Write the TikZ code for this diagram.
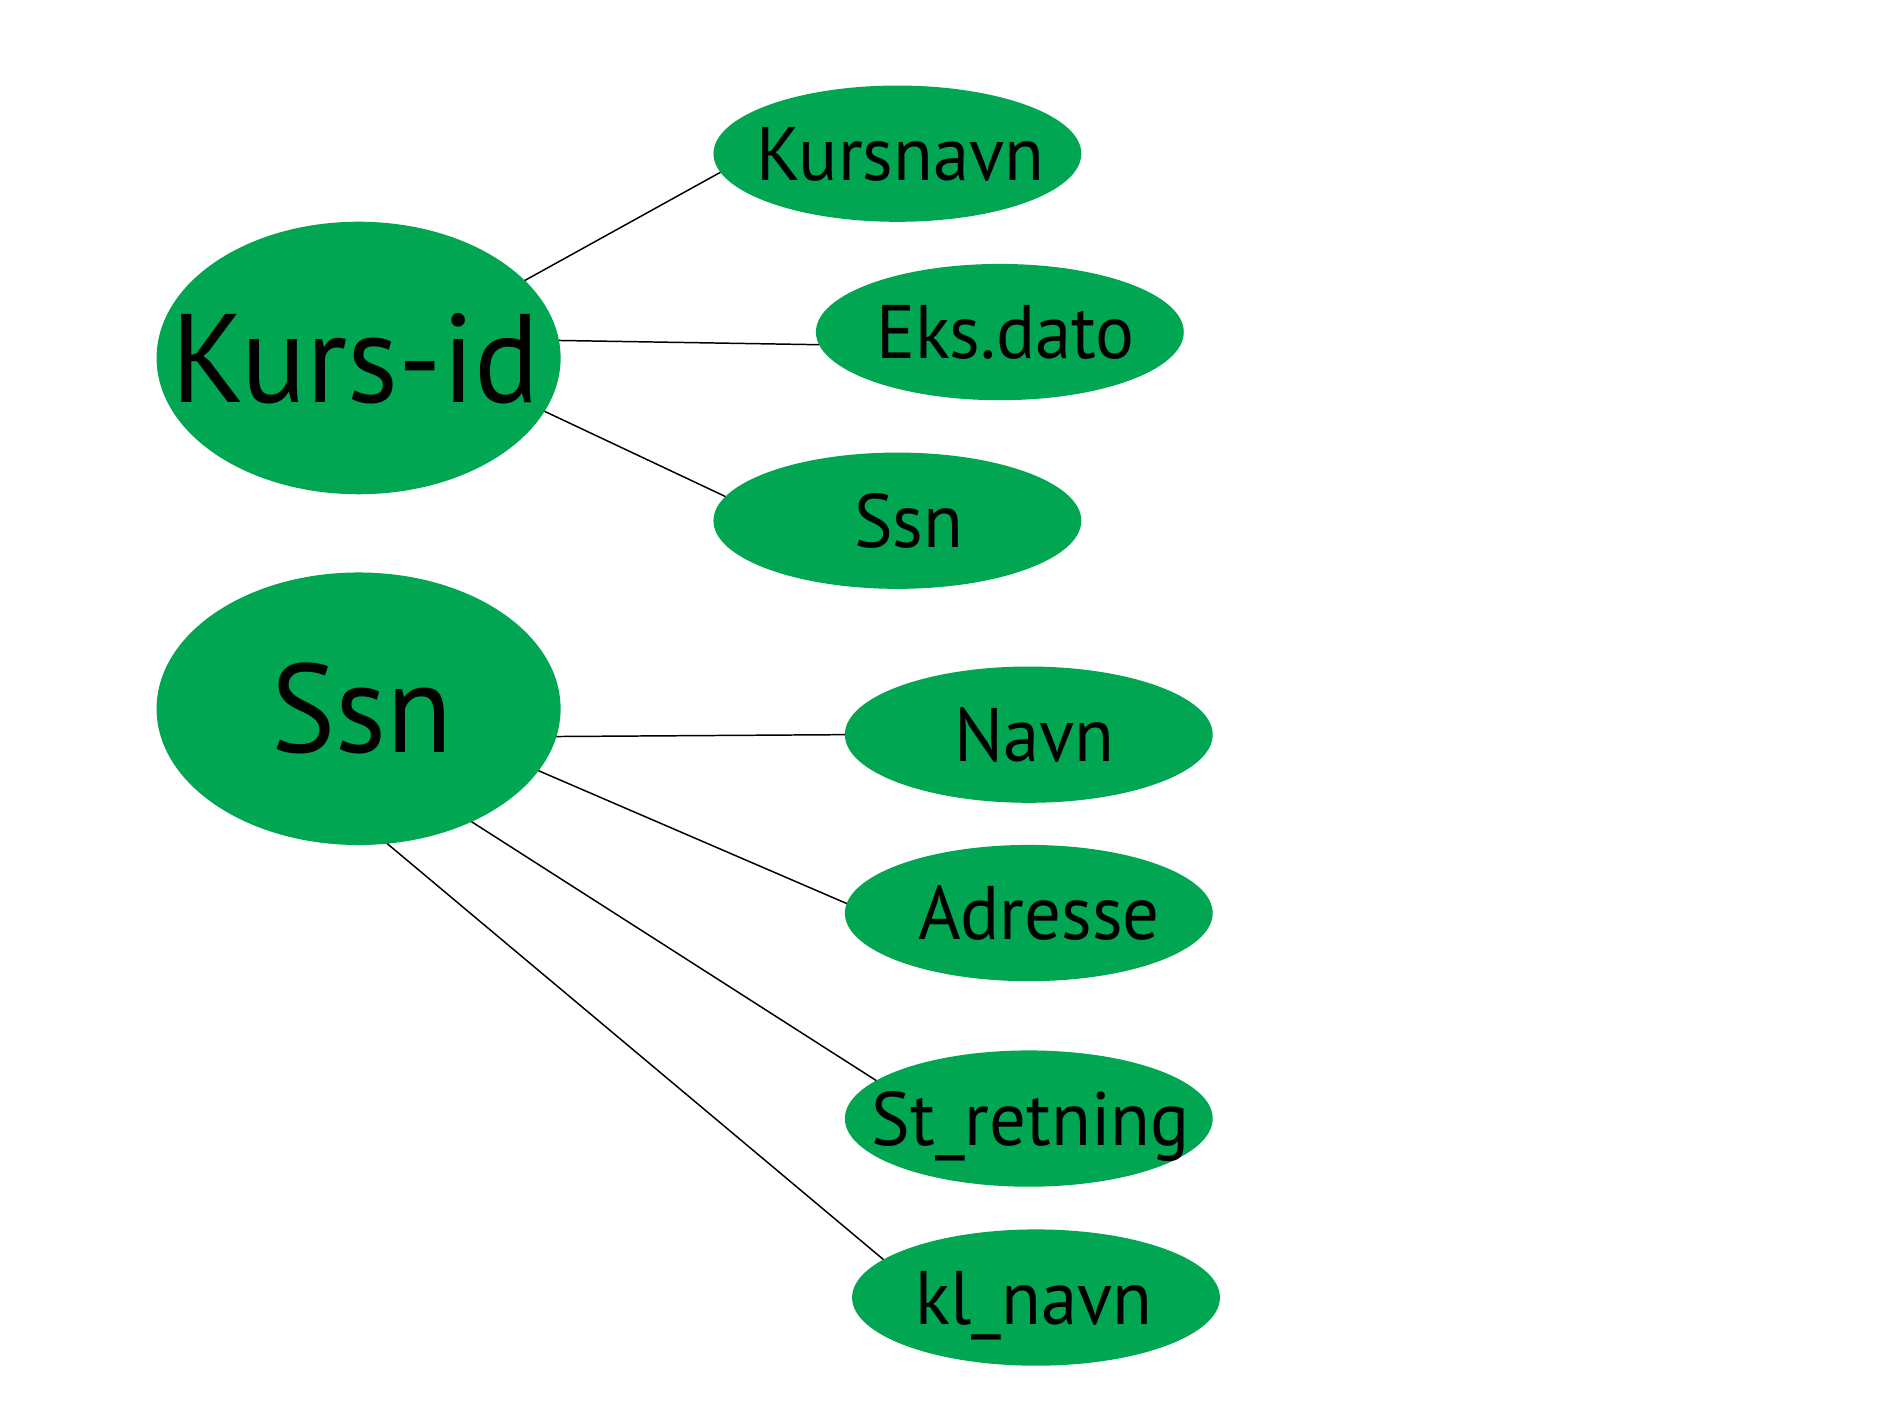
\documentclass[tikz,border=0pt]{standalone}
\usepackage{fontspec}
\setmainfont{PT Sans}[FakeStretch=0.96]
\usetikzlibrary{shapes.geometric}
\definecolor{ergreen}{RGB}{0,166,81}
% #1 = twice the horizontal offset of the label
\newcommand\zl[2][0pt]{\makebox[0pt]{\hspace{#1}\smash{\raisebox{-0.35em}{#2}}}}
\tikzset{
  ent/.style={ellipse, fill=ergreen, draw=none, inner sep=0pt, outer sep=0pt,
    minimum width=3.35cm, minimum height=2.26cm, font=\fontsize{29.7}{34}\selectfont},
  attr/.style={ellipse, fill=ergreen, draw=none, inner sep=0pt, outer sep=0pt,
    minimum width=3.05cm, minimum height=1.13cm, font=\fontsize{17.9}{21}\selectfont},
  link/.style={draw=black, line width=0.35pt}
}
\begin{document}
\begin{tikzpicture}[x=0.01cm,y=-0.01cm]
\useasboundingbox[fill=white] (0,0) rectangle (1568,1176);
\node[ent] (kursid) at (297.5,297) {\zl[-0.05cm]{Kurs-id}};
\node[ent] (ssn) at (297.5,588) {\zl[0.05cm]{Ssn}};
\node[attr] (kursnavn) at (744.5,127.5) {\zl[0.05cm]{Kursnavn}};
\node[attr] (eksdato) at (829.5,275.5) {\zl[0.09cm]{Eks.dato}};
\node[attr] (ssnb) at (744.5,432) {\zl[0.19cm]{Ssn}};
\node[attr] (navn) at (853.5,609.5) {\zl[0.09cm]{Navn}};
\node[attr] (adresse) at (853.5,757.5) {\zl[0.17cm]{Adresse}};
\node[attr] (stretning) at (853.5,928) {\zl[0.03cm]{St\_retning}};
\node[attr] (klnavn) at (859.5,1076.5) {\zl[-0.03cm]{kl\_navn}};
\draw[link] (kursid.25) -- (kursnavn.186);
\draw[link] (kursid.5.5) -- (eksdato.184.4);
\draw[link] (kursid.344) -- (ssnb.172.8);
\draw[link] (ssn.352.5) -- (navn.180);
\draw[link] (ssn.341.9) -- (adresse.177.1);
\draw[link] (ssn.315) -- (stretning.166.7);
\draw[link] (ssn.282) -- (klnavn.166.2);
\end{tikzpicture}
\end{document}
